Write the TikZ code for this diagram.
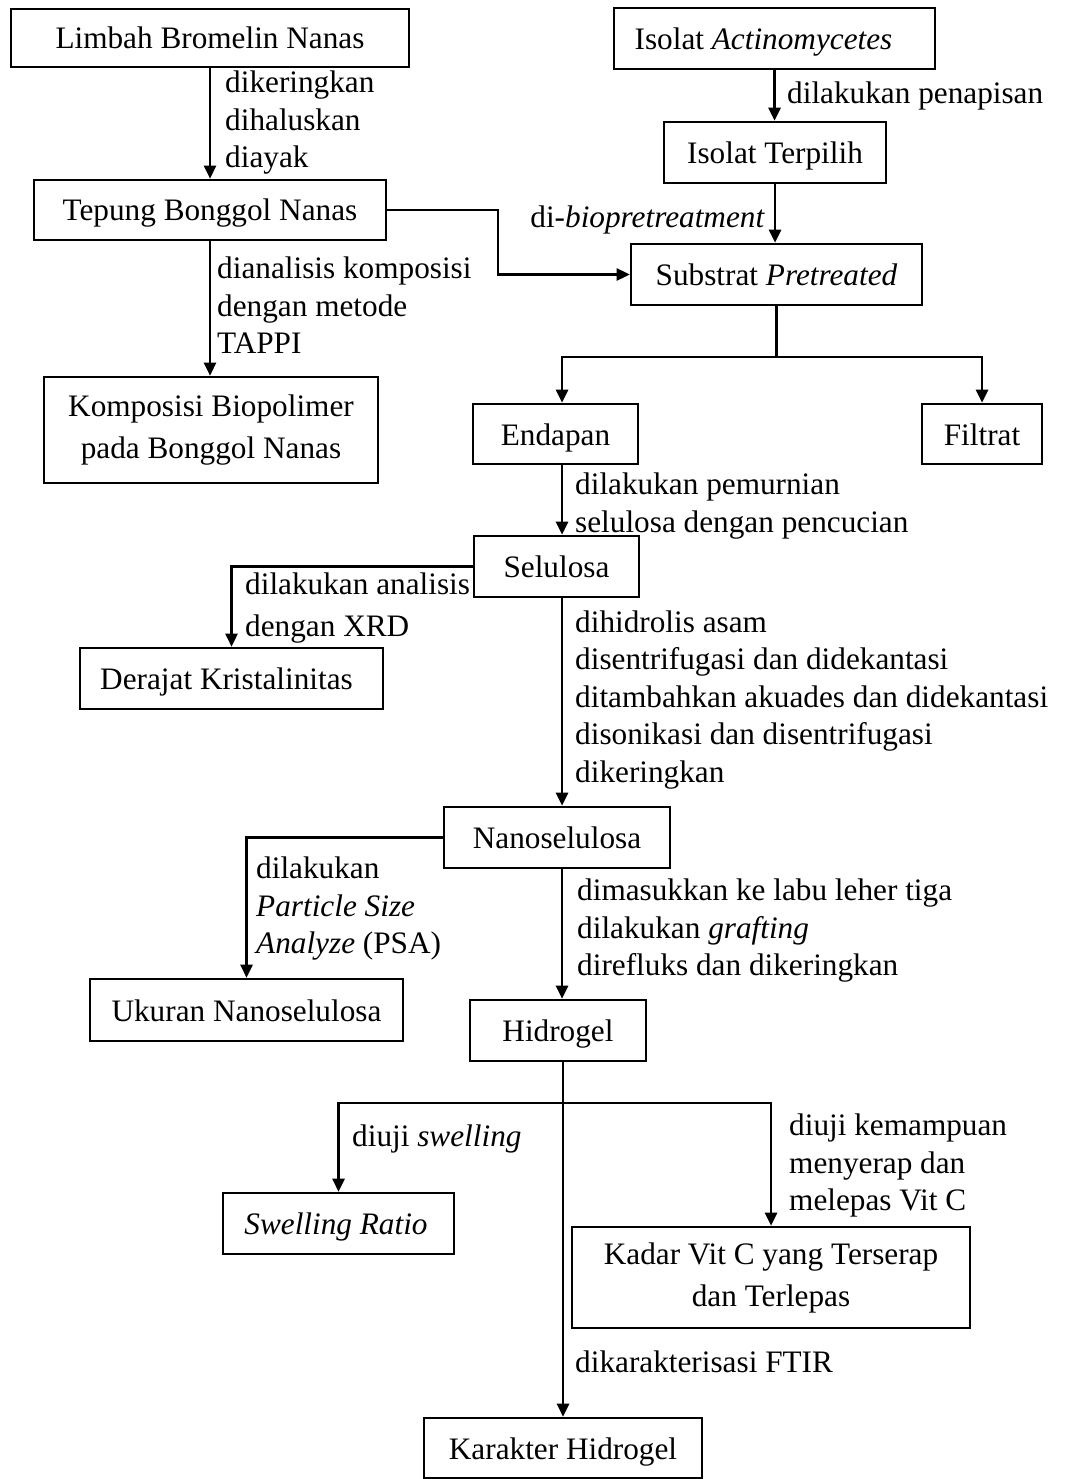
\documentclass[tikz,border=0pt]{standalone}
\usepackage{fontspec}
\setmainfont{Liberation Serif}
\usetikzlibrary{arrows.meta,positioning}

\begin{document}
\begin{tikzpicture}[
  x=1pt, y=-1pt,
  box/.style={rectangle, draw=black, line width=2.6pt, align=center,
    inner sep=0pt, font=\fontsize{31.25pt}{37.5pt}\selectfont},
  boxone/.style={box, text height=22pt, text depth=0pt},
  lbl/.style={align=left, inner sep=0pt, anchor=north west,
    font=\fontsize{31.25pt}{37.5pt}\selectfont},
  arr/.style={-{Triangle[length=13pt,width=12pt]}, line width=2.6pt},
  ln/.style={line width=2.6pt}
]
\useasboundingbox (0,0) rectangle (1070,1479);

%─── LEFT COLUMN ─────────────────────────────────────────────────────────────
\node[boxone, minimum width=398pt, minimum height=58pt] (LB) at (210,38)  {Limbah Bromelin Nanas};
\node[boxone, minimum width=352pt, minimum height=60pt] (TB) at (210,210) {Tepung Bonggol Nanas};
\node[box, minimum width=334pt, minimum height=106pt]   (KB) at (211,430) {Komposisi Biopolimer\\[4.5pt]pada Bonggol Nanas};

%─── RIGHT COLUMN ────────────────────────────────────────────────────────────
\node[boxone, minimum width=321pt, minimum height=61pt] (IA) at (774.5,38.5) {Isolat \textit{Actinomycetes}\hspace{22pt}};
\node[boxone, minimum width=222pt, minimum height=61pt] (IT) at (775,152.5)  {Isolat Terpilih};
\node[boxone, minimum width=291pt, minimum height=61pt] (SP) at (776.5,274.5) {Substrat \textit{Pretreated}};
\node[boxone, minimum width=165pt, minimum height=60pt] (EN) at (555.5,434)  {Endapan};
\node[boxone, minimum width=120pt, minimum height=60pt] (FI) at (982,434)    {Filtrat};

%─── MAIN LINE ───────────────────────────────────────────────────────────────
\node[boxone, minimum width=165pt, minimum height=61pt] (SE) at (556.5,566.5) {Selulosa};
\node[boxone, minimum width=303pt, minimum height=61pt] (DK) at (231.5,678.5) {Derajat Kristalinitas\hspace{10pt}};
\node[boxone, minimum width=226pt, minimum height=61pt] (NS) at (557,837.5)   {Nanoselulosa};
\node[boxone, minimum width=313pt, minimum height=62pt] (UN) at (246.5,1010)  {Ukuran Nanoselulosa};
\node[boxone, minimum width=176pt, minimum height=61pt] (HG) at (558,1030.5)  {Hidrogel};
\node[boxone, minimum width=231pt, minimum height=61pt] (SR) at (338.5,1223.5) {\textit{Swelling Ratio}\hspace{5pt}};
\node[box, minimum width=398pt, minimum height=101pt]   (KV) at (771,1277.5)  {Kadar Vit C yang Terserap\\[4.5pt]dan Terlepas};
\node[boxone, minimum width=278pt, minimum height=60pt] (KH) at (563,1448)    {Karakter Hidrogel};

\coordinate (spine) at (562,0);
\coordinate (bend)  at (498,240);
\coordinate (split) at (776,357);
\coordinate (fork)  at (563,1103);

%─── LABELS ──────────────────────────────────────────────────────────────────
\node[lbl] (Lkering) at (225,70.7)  {dikeringkan\\dihaluskan\\diayak};
\node[lbl] (Lsaring) at (787,82)    {dilakukan penapisan};
\node[lbl, anchor=north east] (Lbio) at (765,205.4) {di-\textit{biopretreatment}};
\node[lbl] (Ltappi)  at (217,256.7) {dianalisis komposisi\\dengan metode\\TAPPI};
\node[lbl] (Lmurni)  at (575,472.7) {dilakukan pemurnian\\selulosa dengan pencucian};
\node[lbl] (Lxrd)    at (245,572.7) {dilakukan analisis\\[4.5pt]dengan XRD};
\node[lbl] (Lhidro)  at (575,610.4) {dihidrolis asam\\disentrifugasi dan didekantasi\\
  ditambahkan akuades dan didekantasi\\disonikasi dan disentrifugasi\\dikeringkan};
\node[lbl] (Lpsa)    at (256,857)   {dilakukan\\\textit{Particle Size}\\\textit{Analyze} (PSA)};
\node[lbl] (Lgraft)  at (577,879)   {dimasukkan ke labu leher tiga\\dilakukan \textit{grafting}\\
  direfluks dan dikeringkan};
\node[lbl] (Lswell)  at (352,1125)  {diuji \textit{swelling}};
\node[lbl] (Lvitc)   at (789,1114)  {diuji kemampuan\\menyerap dan\\melepas Vit C};
\node[lbl] (Lftir)   at (575,1351)  {dikarakterisasi FTIR};

%─── CONNECTORS ──────────────────────────────────────────────────────────────
\draw[arr] (LB.south) -- (TB.north);
\draw[arr] (TB.south) -- (TB.south |- KB.north);
\draw[arr] (TB.east) -| (bend) |- (SP.west);

\draw[arr] (IA.south) -- (IA.south |- IT.north);
\draw[arr] (IT.south) -- (IT.south |- SP.north);
\draw[ln]  (SP.south) -- (SP.south |- split);
\draw[arr] (split) -| (spine |- EN.north);
\draw[arr] (split) -| (FI.north);

\draw[arr] (spine |- EN.south) -- (spine |- SE.north);
\draw[arr] (SE.west) -| (DK.north);
\draw[arr] (spine |- SE.south) -- (spine |- NS.north);
\draw[arr] (NS.west) -| (UN.north);
\draw[arr] (spine |- NS.south) -- (spine |- HG.north);

\draw[arr] (fork |- HG.south) -- (fork |- KH.north);
\draw[arr] (fork) -| (SR.north);
\draw[arr] (fork) -| (KV.north);

\end{tikzpicture}
\end{document}
